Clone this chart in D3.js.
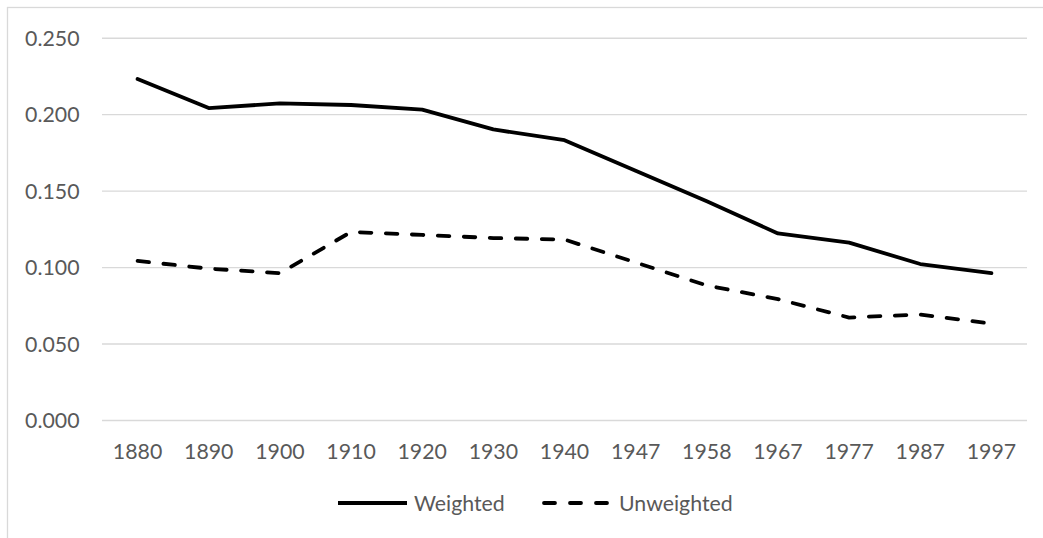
<!DOCTYPE html>
<html>
<head>
<meta charset="utf-8">
<script src="https://cdn.jsdelivr.net/npm/d3@7/dist/d3.min.js"></script>
<style>
  html, body { margin: 0; padding: 0; background: #fff; }
  svg { display: block; }
  text { font-family: Lato, "Open Sans", sans-serif; fill: #595959; }
</style>
</head>
<body>
<svg id="chart" width="1043" height="538"></svg>
<script>
const years = ["1880","1890","1900","1910","1920","1930","1940","1947","1958","1967","1977","1987","1997"];
const weighted = [0.223, 0.204, 0.207, 0.206, 0.203, 0.190, 0.183, 0.163, 0.143, 0.122, 0.116, 0.102, 0.096];
const unweighted = [0.104, 0.099, 0.096, 0.123, 0.121, 0.119, 0.118, 0.103, 0.088, 0.079, 0.067, 0.069, 0.063];
const yTicks = [0, 0.05, 0.1, 0.15, 0.2, 0.25];
const seriesNames = ["Weighted", "Unweighted"];

const svg = d3.select("#chart");
const W = 1043, H = 538;
const plot = { left: 102, right: 1027, top: 37.7, bottom: 420 };
const fontSize = 21.3;

// outer border (chart area frame)
svg.append("rect")
  .attr("x", 7.5).attr("y", 7.5)
  .attr("width", W + 10).attr("height", H + 10)
  .attr("fill", "none").attr("stroke", "#d9d9d9").attr("stroke-width", 1.3);

const x = d3.scaleBand().domain(years).range([plot.left, plot.right]);
const y = d3.scaleLinear().domain([0, 0.25]).range([plot.bottom, plot.top]);

// gridlines
const grid = svg.append("g")
  .attr("transform", `translate(${plot.left},0)`)
  .call(d3.axisLeft(y).tickValues(yTicks).tickSize(-(plot.right - plot.left)).tickFormat(""));
grid.select(".domain").remove();
grid.selectAll(".tick line").attr("stroke", "#d9d9d9").attr("stroke-width", 1.4);

// y axis labels
const yAxis = svg.append("g")
  .attr("transform", `translate(79.5,0)`)
  .call(d3.axisLeft(y).tickValues(yTicks).tickSize(0).tickPadding(0).tickFormat(d3.format(".3f")));
yAxis.select(".domain").remove();
yAxis.selectAll("text")
  .attr("font-size", fontSize).attr("font-family", "Lato, 'Open Sans', sans-serif")
  .attr("fill", "#595959").attr("dy", "0.36em");

// x axis labels
const xAxis = svg.append("g")
  .attr("transform", `translate(0,${plot.bottom})`)
  .call(d3.axisBottom(x).tickSize(0).tickPadding(0));
xAxis.select(".domain").remove();
xAxis.selectAll("text")
  .attr("font-size", fontSize).attr("font-family", "Lato, 'Open Sans', sans-serif")
  .attr("fill", "#595959").attr("y", 38.5).attr("dy", null);

const line = d3.line()
  .x((d, i) => x(years[i]) + x.bandwidth() / 2)
  .y(d => y(d));

const styles = [
  { stroke: "#000", width: 3.8, dash: null, cap: "round" },
  { stroke: "#000", width: 3.8, dash: "11.5,14.5", cap: "round" }
];

[weighted, unweighted].forEach((s, k) => {
  svg.append("path")
    .datum(s)
    .attr("fill", "none")
    .attr("stroke", styles[k].stroke)
    .attr("stroke-width", styles[k].width)
    .attr("stroke-linejoin", "round")
    .attr("stroke-linecap", styles[k].cap)
    .attr("stroke-dasharray", styles[k].dash)
    .attr("d", line);
});

// legend
const legendItems = [
  { x0: 338, x1: 407, tx: 414 },
  { x0: 544, x1: 610, tx: 619 }
];
const legendY = 503;
seriesNames.forEach((name, k) => {
  const g = svg.append("g");
  g.append("line")
    .attr("x1", legendItems[k].x0).attr("x2", legendItems[k].x1)
    .attr("y1", legendY).attr("y2", legendY)
    .attr("stroke", "#000").attr("stroke-width", 3.8)
    .attr("stroke-linecap", k === 0 ? "butt" : "round")
    .attr("stroke-dasharray", k === 0 ? null : "11,15");
  g.append("text")
    .attr("x", legendItems[k].tx).attr("y", legendY)
    .attr("dy", "0.36em")
    .attr("font-size", fontSize)
    .text(name);
});
</script>
</body>
</html>
